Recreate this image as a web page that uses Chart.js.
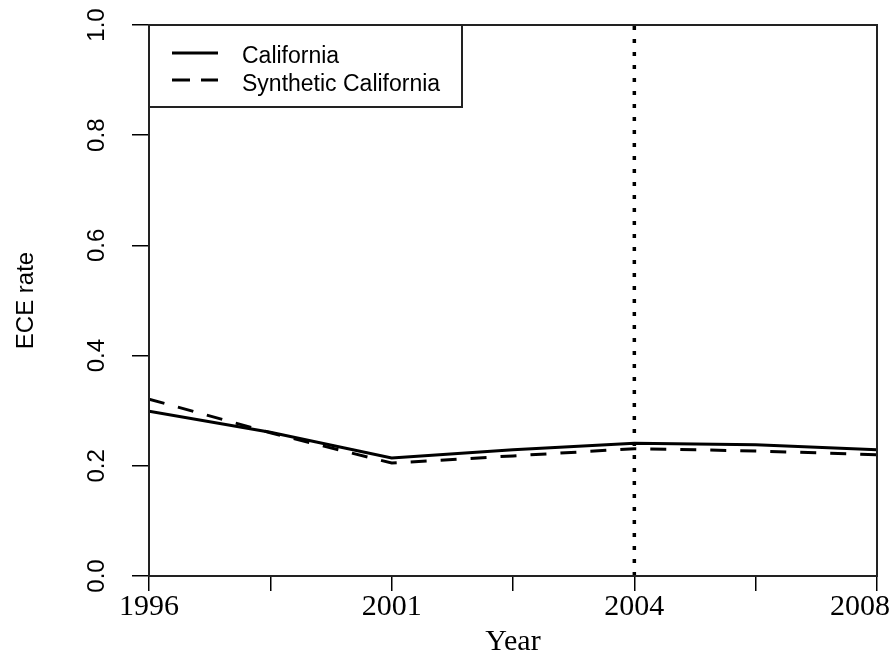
<!DOCTYPE html>
<html>
<head>
<meta charset="utf-8">
<script src="https://cdn.jsdelivr.net/npm/chart.js@4"></script>
<style>
  html, body { margin: 0; padding: 0; background: #fff; }
  #wrap { width: 896px; height: 660px; }
</style>
</head>
<body>
<div id="wrap"><canvas id="ecePlot" width="896" height="660"></canvas></div>
<script>
// periods along the x axis (evenly spaced), labels only on every other tick
const periods = [0, 1, 2, 3, 4, 5, 6];
const yearLabels = ['1996', '', '2001', '', '2004', '', '2008'];
const california = [0.299, 0.261, 0.214, 0.229, 0.241, 0.238, 0.229];
const syntheticCalifornia = [0.321, 0.260, 0.205, 0.218, 0.231, 0.227, 0.220];
const treatmentPeriod = 4;
const yTicks = [0, 0.2, 0.4, 0.6, 0.8, 1.0];

const toPoints = (vals) => vals.map((v, i) => ({ x: periods[i], y: v }));

// R-style frame, rotated y labels, x labels kept inside the page, boxed legend
const rFrame = {
    id: 'rFrame',
    afterDraw(chart) {
        const { ctx, chartArea: a, scales } = chart;
        ctx.save();
        ctx.strokeStyle = '#222';
        ctx.lineWidth = 2;
        ctx.strokeRect(a.left, a.top, a.right - a.left, a.bottom - a.top);

        // y tick labels, reading upwards
        ctx.fillStyle = '#000';
        ctx.font = '24px "Liberation Sans", Arial, sans-serif';
        ctx.textAlign = 'center';
        ctx.textBaseline = 'middle';
        yTicks.forEach(t => {
            const py = scales.y.getPixelForValue(t);
            ctx.save();
            ctx.translate(97, py);
            ctx.rotate(-Math.PI / 2);
            ctx.fillText(t.toFixed(1), 0, 0);
            ctx.restore();
        });

        // x tick labels
        ctx.font = '30px "Liberation Serif", "Times New Roman", serif';
        ctx.textBaseline = 'alphabetic';
        periods.forEach((p, i) => {
            const txt = yearLabels[i];
            if (!txt) return;
            const w = ctx.measureText(txt).width;
            const px = Math.min(scales.x.getPixelForValue(p), chart.width - 6 - w / 2);
            ctx.fillText(txt, px, 615);
        });

        // legend
        const lx = a.left, ly = a.top;
        ctx.fillStyle = '#fff';
        ctx.fillRect(lx, ly, 313, 82);
        ctx.strokeStyle = '#222';
        ctx.lineWidth = 2;
        ctx.strokeRect(lx, ly, 313, 82);
        ctx.strokeStyle = '#000';
        ctx.lineWidth = 3;
        ctx.beginPath();
        ctx.moveTo(lx + 23, ly + 28); ctx.lineTo(lx + 69, ly + 28);
        ctx.stroke();
        ctx.setLineDash([18, 11]);
        ctx.beginPath();
        ctx.moveTo(lx + 23, ly + 55); ctx.lineTo(lx + 69, ly + 55);
        ctx.stroke();
        ctx.setLineDash([]);
        ctx.fillStyle = '#000';
        ctx.font = '23px "Liberation Sans", Arial, sans-serif';
        ctx.textAlign = 'left';
        ctx.fillText('California', lx + 93, ly + 38);
        ctx.fillText('Synthetic California', lx + 93, ly + 66);
        ctx.restore();
    }
};

new Chart(document.getElementById('ecePlot'), {
    type: 'line',
    data: {
        datasets: [
            {
                label: 'California',
                data: toPoints(california),
                borderColor: '#000',
                borderWidth: 3,
                pointRadius: 0,
                tension: 0
            },
            {
                label: 'Synthetic California',
                data: toPoints(syntheticCalifornia),
                borderColor: '#000',
                borderWidth: 3,
                borderDash: [16, 14],
                pointRadius: 0,
                tension: 0
            },
            {
                label: 'treatment',
                data: [{ x: treatmentPeriod, y: 0 }, { x: treatmentPeriod, y: 1 }],
                borderColor: '#000',
                borderWidth: 3.5,
                borderDash: [4, 9],
                borderCapStyle: 'butt',
                pointRadius: 0
            }
        ]
    },
    options: {
        responsive: false,
        animation: false,
        events: [],
        layout: { padding: { left: 0, right: 19, top: 25, bottom: 0 } },
        scales: {
            x: {
                type: 'linear',
                min: 0,
                max: 6,
                afterFit: s => { s.height = 84; s.paddingLeft = 0; s.paddingRight = 0; },
                afterBuildTicks: s => { s.ticks = periods.map(p => ({ value: p })); },
                ticks: {
                    autoSkip: false,
                    maxRotation: 0,
                    padding: -4,
                    color: 'rgba(0,0,0,0)',
                    font: { family: '"Liberation Serif", "Times New Roman", serif', size: 30 },
                    callback: (v) => yearLabels[v] ?? ''
                },
                grid: { drawOnChartArea: false, drawTicks: true, tickLength: 15, color: '#000', lineWidth: 1.5 },
                border: { display: true, color: '#222', width: 2 },
                title: {
                    display: true,
                    text: 'Year',
                    color: '#000',
                    padding: { top: 0, bottom: 0 },
                    font: { family: '"Liberation Serif", "Times New Roman", serif', size: 30 }
                }
            },
            y: {
                min: 0,
                max: 1,
                afterFit: s => { s.width = 149; s.paddingTop = 0; s.paddingBottom = 0; },
                afterBuildTicks: s => { s.ticks = yTicks.map(v => ({ value: v })); },
                ticks: { display: false },
                grid: { drawOnChartArea: false, drawTicks: true, tickLength: 17, color: '#000', lineWidth: 1.5 },
                border: { display: true, color: '#222', width: 2 },
                title: {
                    display: true,
                    text: 'ECE rate',
                    color: '#000',
                    padding: { top: 12, bottom: 0 },
                    font: { family: '"Liberation Sans", Arial, sans-serif', size: 24 }
                }
            }
        },
        plugins: {
            legend: { display: false },
            tooltip: { enabled: false }
        }
    },
    plugins: [rFrame]
});
</script>
</body>
</html>
